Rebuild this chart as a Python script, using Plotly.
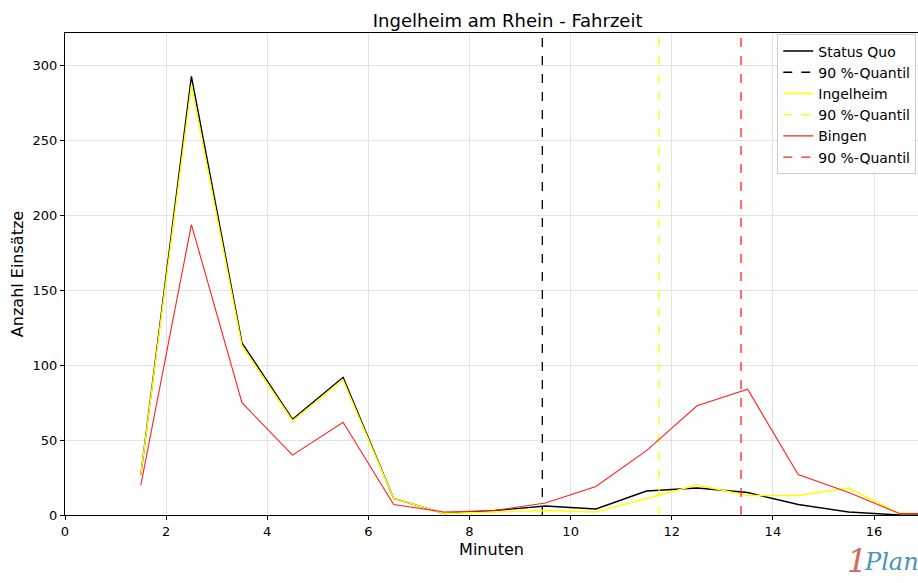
import plotly.graph_objects as go

# Minuten (Klassenmitten) und Anzahl Einsätze je Szenario
minuten = [1.5, 2.5, 3.5, 4.5, 5.5, 6.5, 7.5, 8.5, 9.5, 10.5, 11.5, 12.5, 13.5, 14.5, 15.5, 16.5, 17.5]
status_quo = [27, 293, 115, 64, 92, 11, 1, 3, 6, 4, 16, 18, 15, 7, 2, 0, 0]
ingelheim = [27, 287, 113, 63, 90, 11, 1, 2, 3, 2, 11, 20, 13, 13, 18, 1, 1]
bingen = [20, 194, 75, 40, 62, 7, 2, 3, 8, 19, 43, 73, 84, 27, 15, 1, 1]

# 90 %-Quantile
q_status_quo = 9.44
q_ingelheim = 11.75
q_bingen = 13.37

y_max = 322
farben = {"Status Quo": "black", "Ingelheim": "#ffff00", "Bingen": "#ff2020"}
breiten = {"Status Quo": 1.4, "Ingelheim": 1.4, "Bingen": 1.1}

fig = go.Figure()
reihen = [("Status Quo", status_quo, q_status_quo),
          ("Ingelheim", ingelheim, q_ingelheim),
          ("Bingen", bingen, q_bingen)]
for name, werte, q in reihen:
    farbe = farben[name]
    fig.add_trace(go.Scatter(
        x=minuten, y=werte, mode="lines", name=name,
        line=dict(color=farbe, width=breiten[name])
    ))
    fig.add_trace(go.Scatter(
        x=[q, q], y=[0, y_max], mode="lines", name="90 %-Quantil",
        line=dict(color=farbe, width=1.3, dash="dash")
    ))

fig.update_layout(
    width=918, height=583,
    margin=dict(l=65, r=0, t=33, b=68, autoexpand=False),
    plot_bgcolor="white", paper_bgcolor="white",
    font=dict(family="DejaVu Sans", size=13, color="black"),
    title=dict(text="Ingelheim am Rhein - Fahrzeit", x=0.553, xref="container",
               xanchor="center", y=0.964, yanchor="middle", font=dict(size=18)),
    xaxis=dict(title=dict(text="Minuten", font=dict(size=16), standoff=6),
               range=[0, 16.87], tickvals=[0, 2, 4, 6, 8, 10, 12, 14, 16],
               showline=True, linecolor="black", linewidth=1, mirror=True,
               ticks="outside", ticklen=4, tickcolor="black",
               showgrid=True, gridcolor="#e3e3e3", gridwidth=1, zeroline=False),
    yaxis=dict(title=dict(text="Anzahl Einsätze", font=dict(size=16), standoff=4),
               range=[0, y_max], tickvals=[0, 50, 100, 150, 200, 250, 300],
               showline=True, linecolor="black", linewidth=1, mirror=True,
               ticks="outside", ticklen=4, tickcolor="black",
               showgrid=True, gridcolor="#e3e3e3", gridwidth=1, zeroline=False),
    legend=dict(x=0.835, y=0.997, xanchor="left", yanchor="top",
                bgcolor="rgba(255,255,255,0.85)", bordercolor="#cccccc", borderwidth=1,
                font=dict(size=14), tracegroupgap=0, itemwidth=30),
    showlegend=True,
)

# Logo unten rechts
fig.add_annotation(text="<i>1</i>", xref="paper", yref="paper", x=0.928, y=-0.095,
                   xanchor="center", yanchor="middle", showarrow=False,
                   font=dict(family="DejaVu Serif", size=32, color="#d46a5e"))
fig.add_annotation(text="<i>Plan</i>", xref="paper", yref="paper", x=0.9695, y=-0.0975,
                   xanchor="center", yanchor="middle", showarrow=False,
                   font=dict(family="DejaVu Serif", size=24, color="#4a92b8"))

fig.write_html("out.html", config={"displayModeBar": False},
               post_script="document.body.style.margin='0';")
